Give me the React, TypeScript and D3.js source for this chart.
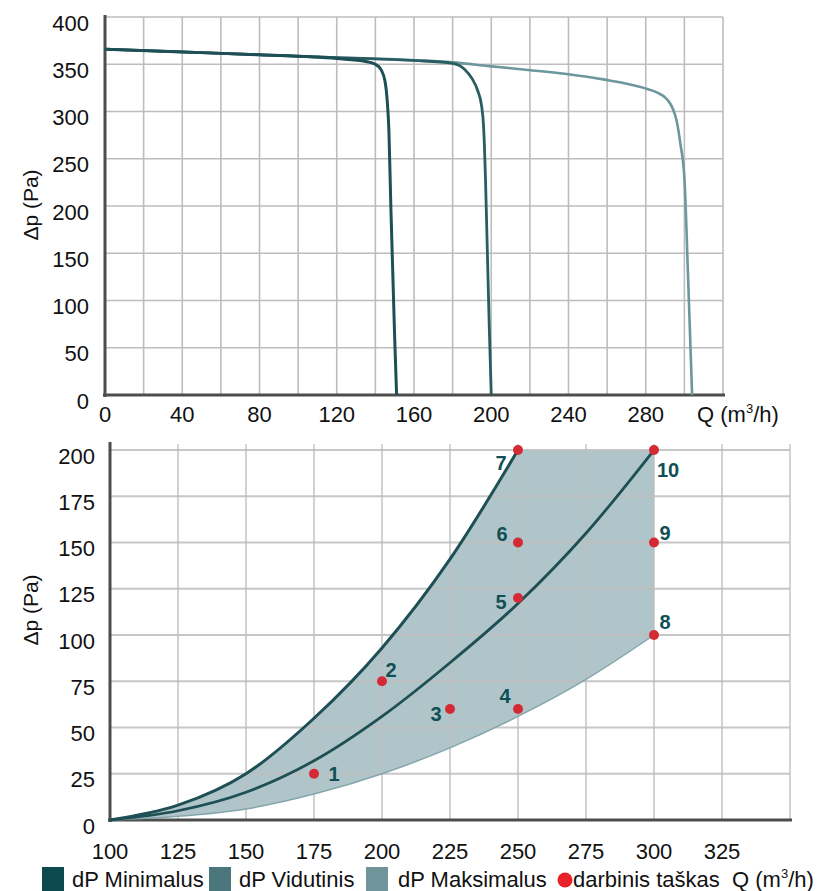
import React from "react";
import * as d3 from "d3";

// ---------- DATA ----------
// Top chart: fan curves Δp (Pa) vs Q (m3/h)
const topMin: [number, number][] = [[0,366],[40,363],[80,360],[120,356],[135,353],[140,350],[143,344],[145,332],[146,315],[147,280],[148,200],[149,130],[150,60],[151,0]];
const topMid: [number, number][] = [[0,366],[40,363],[80,360],[120,357],[160,354],[180,351],[186,345],[190,335],[193,322],[195,306],[196,285],[197,230],[198,150],[199,70],[200,0]];
const topMax: [number, number][] = [[0,366],[40,363],[80,360],[120,357],[160,354],[180,352],[199,348],[219,344],[238,340],[258,334],[279,325],[286,320],[291,313],[294,303],[296,290],[298,265],[300,230],[302,120],[304,0]];
const topXTicks = [0, 40, 80, 120, 160, 200, 240, 280];
const topYTicks = [0, 50, 100, 150, 200, 250, 300, 350, 400];

// Bottom chart: system curves
const botMin: [number, number][] = [[100,0],[125,8],[150,25],[175,55],[200,93],[225,141],[250,200]];
const botMid: [number, number][] = [[100,0],[125,5],[150,15],[175,32],[200,56],[225,85],[250,117],[275,155],[300,200]];
const botMax: [number, number][] = [[100,0],[125,2],[150,6],[175,14],[200,25],[225,39],[250,56],[275,76],[300,100]];
const pointIds = ["1","2","3","4","5","6","7","8","9","10"];
const pointQ = [175, 200, 225, 250, 250, 250, 250, 300, 300, 300];
const pointP = [25, 75, 60, 60, 120, 150, 200, 100, 150, 200];
const botXTicks = [100, 125, 150, 175, 200, 225, 250, 275, 300, 325];
const botYTicks = [0, 25, 50, 75, 100, 125, 150, 175, 200];

const legendLabels = ["dP Minimalus", "dP Vidutinis", "dP Maksimalus", "darbinis taškas"];

// ---------- LAYOUT / STYLE ----------
const labelOffsets: [number, number][] = [[20,7],[9,-4],[-14,12],[-13,-6],[-17,11],[-16,-2],[-17,20],[11,-6],[11,-3],[14,27]];
const FONT = "'Liberation Sans', Arial, Helvetica, sans-serif";
const DARK = "#1d4f54";
const GRID = "#bdbdbd";
const AXIS = "#4d4d4d";

export default function App() {
  // top scales
  const tx = d3.scaleLinear().domain([0, 320]).range([105, 723]);
  const ty = d3.scaleLinear().domain([0, 400]).range([395, 17]);
  // bottom scales
  const bx = d3.scaleLinear().domain([100, 350]).range([110, 790]);
  const by = d3.scaleLinear().domain([0, 200]).range([820, 450]);

  const tLine = d3.line<[number, number]>().x(d => tx(d[0])).y(d => ty(d[1])).curve(d3.curveMonotoneX);
  const bLine = d3.line<[number, number]>().x(d => bx(d[0])).y(d => by(d[1])).curve(d3.curveMonotoneX);

  const topGridX = d3.range(20, 321, 20);
  const topGridY = d3.range(50, 401, 50);
  const botGridX = d3.range(125, 351, 25);
  const botGridY = d3.range(25, 201, 25);

  const lastMin = botMin[botMin.length - 1];
  const lastMax = botMax[botMax.length - 1];
  const rev = [...botMax].reverse();
  const fillPath =
    (bLine(botMin) as string) +
    `L${bx(lastMax[0])},${by(lastMin[1])}` +
    `L${bx(lastMax[0])},${by(lastMax[1])}` +
    (bLine(rev) as string).replace(/^M/, "L") + "Z";

  const legendSquares = [
    { x: 42, color: "#0c4a4f", label: legendLabels[0], tx: 72 },
    { x: 209, color: "#4b777c", label: legendLabels[1], tx: 239 },
    { x: 366, color: "#6f9499", label: legendLabels[2], tx: 398 },
  ];

  return (
    <div style={{ position: "absolute", left: 0, top: 0 }}>
      <svg width={819} height={891} style={{ display: "block", fontFamily: FONT }}>
        <rect width={819} height={891} fill="#fff" />

        {/* ---------- TOP CHART ---------- */}
        <g>
          {topGridX.map(v => (
            <line key={"tgx" + v} x1={tx(v)} x2={tx(v)} y1={ty(400)} y2={ty(0)} stroke={GRID} strokeWidth={1.6} />
          ))}
          {topGridY.map(v => (
            <line key={"tgy" + v} x1={tx(0)} x2={tx(320)} y1={ty(v)} y2={ty(v)} stroke={GRID} strokeWidth={1.6} />
          ))}
          <line x1={tx(0)} x2={tx(0)} y1={ty(400) - 2} y2={ty(0) + 2} stroke={AXIS} strokeWidth={3} />
          <line x1={tx(0) - 2} x2={tx(320) + 2} y1={ty(0)} y2={ty(0)} stroke={AXIS} strokeWidth={3} />
          <path d={tLine(topMax) as string} fill="none" stroke="#6c979c" strokeWidth={2.6} />
          <path d={tLine(topMid) as string} fill="none" stroke="#2a5d62" strokeWidth={2.8} />
          <path d={tLine(topMin) as string} fill="none" stroke={DARK} strokeWidth={3} />
          {topYTicks.map(v => (
            <text key={"tyt" + v} x={89} y={ty(v) + 13.5} textAnchor="end" fontSize={22} fill="#111">{v}</text>
          ))}
          {topXTicks.map(v => (
            <text key={"txt" + v} x={tx(v)} y={422} textAnchor="middle" fontSize={22} fill="#111">{v}</text>
          ))}
          <text x={697} y={422} fontSize={22} fill="#111">
            Q (m<tspan fontSize={13} dy={-9}>3</tspan><tspan dy={9}>/h)</tspan>
          </text>
          <text transform="translate(38,205) rotate(-90)" textAnchor="middle" fontSize={21} fill="#111">Δp (Pa)</text>
        </g>

        {/* ---------- BOTTOM CHART ---------- */}
        <g>
          <path d={fillPath} fill="#6f969c" fillOpacity={0.55} stroke="none" />
          {botGridX.map(v => (
            <line key={"bgx" + v} x1={bx(v)} x2={bx(v)} y1={by(200) - 6} y2={by(0)} stroke={GRID} strokeOpacity={0.85} strokeWidth={1.6} />
          ))}
          {botGridY.map(v => (
            <line key={"bgy" + v} x1={bx(100)} x2={bx(350)} y1={by(v)} y2={by(v)} stroke={GRID} strokeOpacity={0.85} strokeWidth={1.8} />
          ))}
          <line x1={bx(100)} x2={bx(100)} y1={by(200) - 8} y2={by(0) + 2} stroke={AXIS} strokeWidth={3} />
          <line x1={bx(100) - 2} x2={bx(350) + 2} y1={by(0)} y2={by(0)} stroke={AXIS} strokeWidth={3} />
          <path d={bLine(botMax) as string} fill="none" stroke="#83a6ab" strokeWidth={1.5} />
          <path d={bLine(botMid) as string} fill="none" stroke={DARK} strokeWidth={2.8} />
          <path d={bLine(botMin) as string} fill="none" stroke={DARK} strokeWidth={3} />
          {pointIds.map((id, i) => (
            <g key={"pt" + id}>
              <circle cx={bx(pointQ[i])} cy={by(pointP[i])} r={5} fill="#d42a35" />
              <text x={bx(pointQ[i]) + labelOffsets[i][0]} y={by(pointP[i]) + labelOffsets[i][1]} textAnchor="middle" fontSize={20} fontWeight="bold" fill="#0f4f55">{id}</text>
            </g>
          ))}
          {botYTicks.map(v => (
            <text key={"byt" + v} x={95} y={by(v) + 13.5} textAnchor="end" fontSize={22} fill="#111">{v}</text>
          ))}
          {botXTicks.map(v => (
            <text key={"bxt" + v} x={bx(v)} y={859} textAnchor="middle" fontSize={22} fill="#111">{v}</text>
          ))}
          <text transform="translate(38,610) rotate(-90)" textAnchor="middle" fontSize={21} fill="#111">Δp (Pa)</text>
        </g>

        {/* ---------- LEGEND ---------- */}
        <g>
          {legendSquares.map(s => (
            <g key={s.label}>
              <rect x={s.x} y={867} width={22} height={24} fill={s.color} />
              <text x={s.tx} y={887} fontSize={22} fill="#111">{s.label}</text>
            </g>
          ))}
          <circle cx={565} cy={880} r={7.5} fill="#e8212b" />
          <text x={573} y={887} fontSize={22} fill="#111">{legendLabels[3]}</text>
          <text x={732} y={887} fontSize={22} fill="#111">
            Q (m<tspan fontSize={13} dy={-9}>3</tspan><tspan dy={9}>/h)</tspan>
          </text>
        </g>
      </svg>
    </div>
  );
}
